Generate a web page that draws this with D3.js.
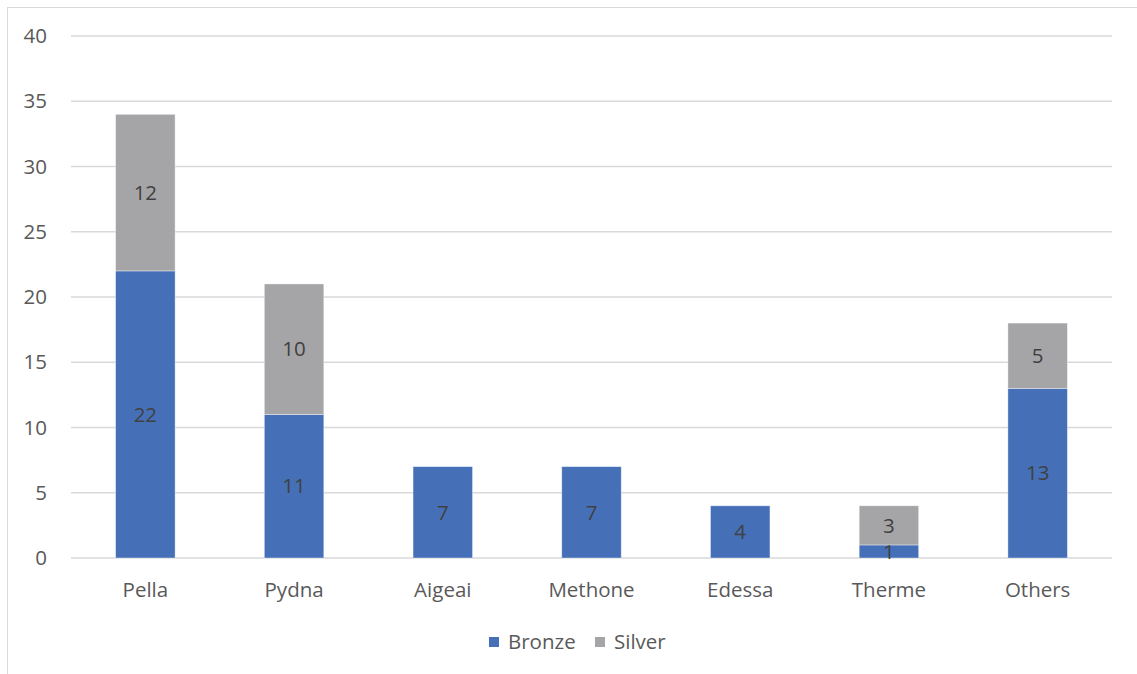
<!DOCTYPE html>
<html><head><meta charset="utf-8">
<script src="https://cdn.jsdelivr.net/npm/d3@7"></script>
<style>body{margin:0;background:#fff;} svg{display:block;font-family:"Open Sans",sans-serif;}</style>
</head><body>
<svg id="c" width="1137" height="674"></svg>
<script>
const categories = ["Pella","Pydna","Aigeai","Methone","Edessa","Therme","Others"];
const bronze = [22,11,7,7,4,1,13];
const silver = [12,10,0,0,0,3,5];
const seriesNames = ["Bronze","Silver"];
const seriesColors = ["#4570B8","#A5A5A8"];
const yTicks = [0,5,10,15,20,25,30,35,40];

const svg = d3.select("#c");
svg.append("rect").attr("x",7.5).attr("y",7.5).attr("width",1140).attr("height",680)
  .attr("fill","none").attr("stroke","#d9d9d9").attr("stroke-width",1);

const x = d3.scaleBand().domain(categories).range([71,1112]).paddingInner(0.6).paddingOuter(0.3);
const y = d3.scaleLinear().domain([0,40]).range([558,36]);
const FS = 20.5;

const grid = svg.append("g");
yTicks.forEach(t=>{
  grid.append("line").attr("x1",71).attr("x2",1112).attr("y1",y(t)).attr("y2",y(t))
    .attr("stroke","#d9d9d9").attr("stroke-width",1.5);
});
const yAxis = d3.axisLeft(y).tickValues(yTicks).tickSize(0).tickPadding(0);
const yg = svg.append("g").attr("transform","translate(47,0)").call(yAxis);
yg.select(".domain").remove();
yg.selectAll("text").attr("fill","#595959").attr("font-size",FS).attr("font-family","Open Sans, sans-serif");

const xAxis = d3.axisBottom(x).tickSize(0).tickPadding(0);
const xg = svg.append("g").attr("transform","translate(0,590)").call(xAxis);
xg.select(".domain").remove();
xg.selectAll("text").attr("fill","#595959").attr("font-size",FS).attr("font-family","Open Sans, sans-serif").attr("dy","0.35em");

const data = categories.map((c,i)=>({cat:c,Bronze:bronze[i],Silver:silver[i]}));
const stack = d3.stack().keys(seriesNames)(data);
stack.forEach((s,si)=>{
  const g = svg.append("g");
  s.forEach(d=>{
    if (d[1]-d[0] <= 0) return;
    g.append("rect").attr("x",x(d.data.cat)).attr("width",x.bandwidth())
      .attr("y",y(d[1])).attr("height",y(d[0])-y(d[1])).attr("fill",seriesColors[si])
      .attr("stroke","#fff").attr("stroke-opacity",0.5).attr("stroke-width",0.75);
  });
  s.forEach(d=>{
    if (d[1]-d[0] <= 0) return;
    svg.append("text").attr("x",x(d.data.cat)+x.bandwidth()/2).attr("y",(y(d[0])+y(d[1]))/2)
      .attr("text-anchor","middle").attr("dy","0.35em").attr("font-size",FS).attr("fill","#404040")
      .text(d[1]-d[0]);
  });
});

const leg = svg.append("g").attr("transform","translate(489,642)");
let lx = 0;
seriesNames.forEach((n,i)=>{
  const gi = leg.append("g").attr("transform",`translate(${lx},0)`);
  gi.append("rect").attr("x",0).attr("y",-5).attr("width",10).attr("height",10).attr("fill",seriesColors[i]);
  gi.append("text").attr("x",19).attr("dy","0.35em").attr("font-size",FS).attr("fill","#595959").text(n);
  lx += 106;
});
</script>
</body></html>
